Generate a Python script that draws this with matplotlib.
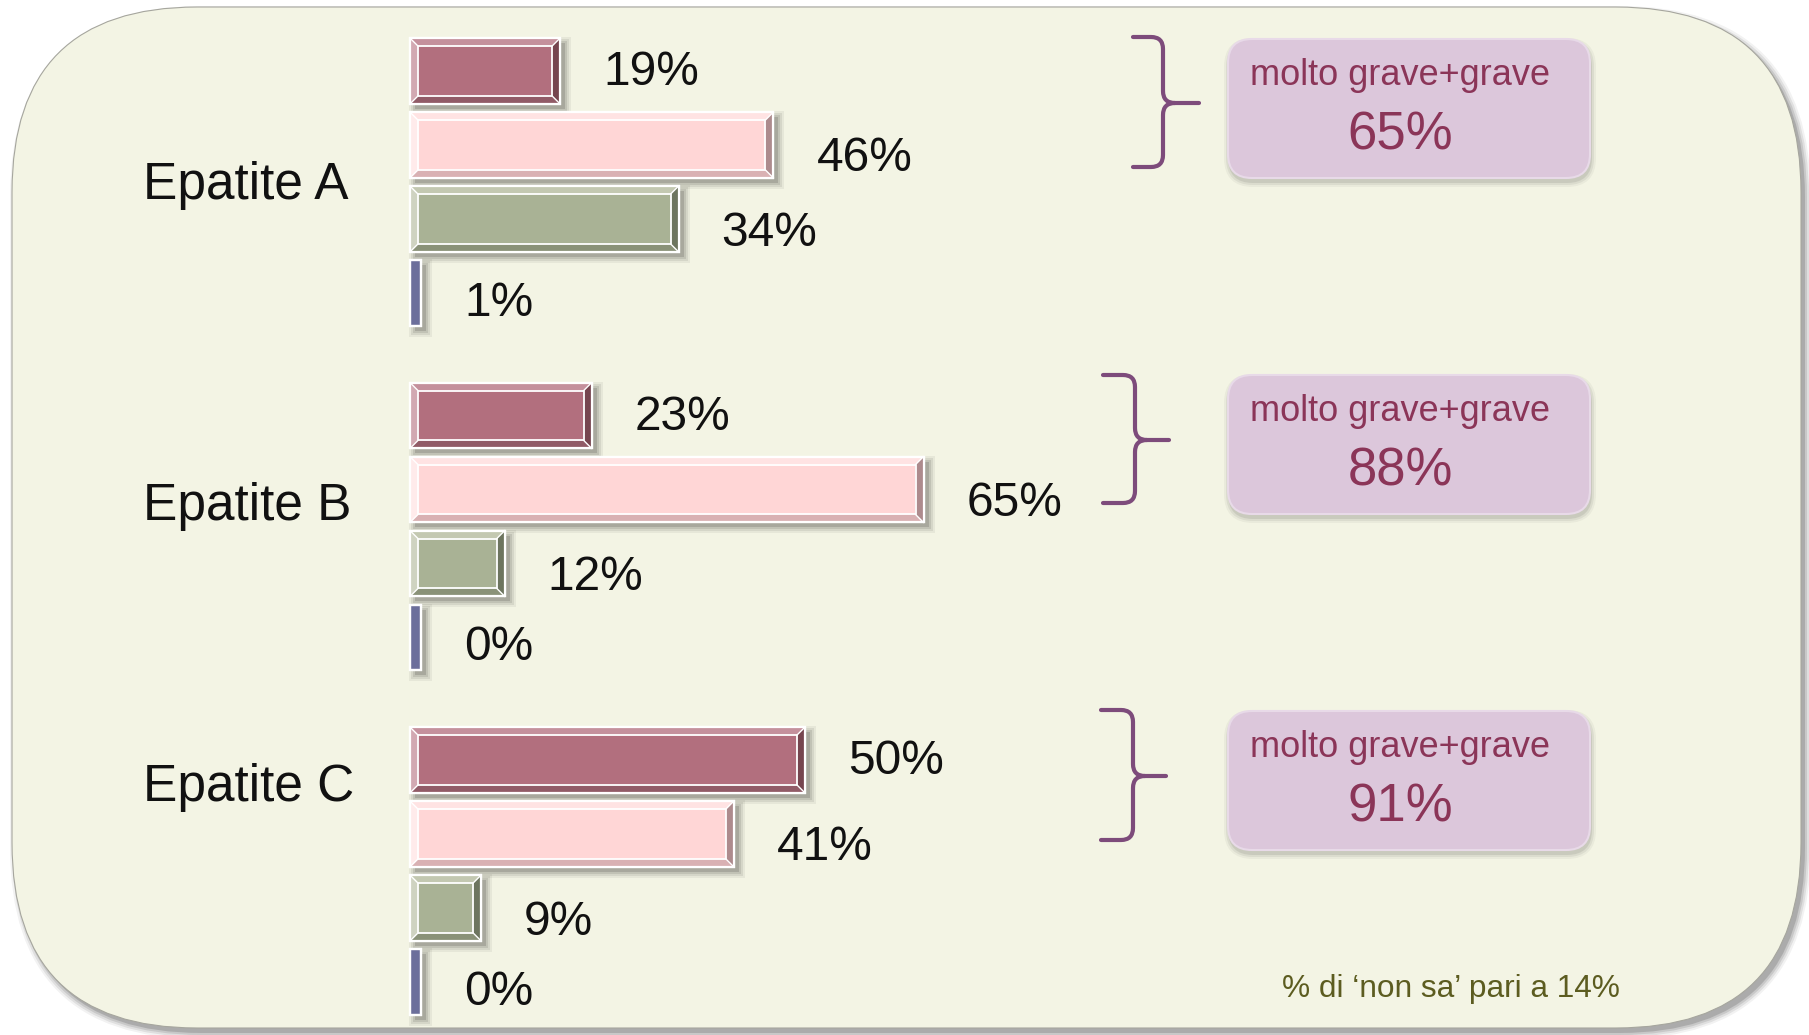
import numpy as np
import matplotlib
matplotlib.use("Agg")
import matplotlib.pyplot as plt
from matplotlib.patches import FancyBboxPatch, Polygon, Rectangle, PathPatch
from matplotlib.path import Path

plt.rcParams['font.family'] = ['Liberation Sans', 'DejaVu Sans']

# ---------------- data ----------------
diseases = ["Epatite A", "Epatite B", "Epatite C"]
molto_grave = [19, 23, 50]
grave = [46, 65, 41]
poco_grave = [34, 12, 9]
per_niente_grave = [1, 0, 0]
series = [molto_grave, grave, poco_grave, per_niente_grave]
summary_title = "molto grave+grave"
summary_totals = [65, 88, 91]
footnote = "% di \u2018non sa\u2019 pari a 14%"

# ---------------- style / layout ----------------
W, H = 1809, 1035
fill_colors = ["#B26F7E", "#FFD6D6", "#A9B295", "#6C6F9B"]
bevel_colors = [  # top, left, bottom, right
    ("#C4909C", "#D2A9B2", "#915B67", "#76454F"),
    ("#FFE3E3", "#FFEBEB", "#D9B1B3", "#AD8B8D"),
    ("#C3C8B1", "#CFD3C1", "#8A9278", "#6D755F"),
    ("#8C8FB3", "#9A9CBD", "#55587D", "#4A4C6E"),
]
PX_PER_PCT = 7.9
ZERO_X = 410
SLOT = 74.0
GROUP_GAP = 344.5
FIRST_Y = 71
BAR_H = 0.89
MIN_VIS = 1.4
BEVEL = 8
LABEL_DX = 43
LABEL_DY = [-2, 10, 11, 7]          # px, downward, per series
GROUP_LABEL_BASELINE = [199, 520, 801]
BRACES = [(1133, 1163, 1199, 37, 167, 103),
          (1103, 1135, 1169, 375, 503, 440),
          (1101, 1133, 1166, 710, 840, 776)]
BOX_X, BOX_W, BOX_H = 1228, 362, 139
BOX_TOP = [39, 375, 711]
TEXT_DARK = "#8B3558"
BRACE_COLOR = "#7D4B7B"

fig = plt.figure(figsize=(W / 100, H / 100), dpi=100, facecolor="white")

# background / decoration axes in pixel units
bg = fig.add_axes([0, 0, 1, 1])
bg.set_xlim(0, W)
bg.set_ylim(H, 0)
bg.axis("off")

# panel shadow + panel
for grow, a in [(6, 0.05), (4, 0.08), (2, 0.10), (0, 0.14)]:
    bg.add_patch(FancyBboxPatch((12 + 4 - grow, 7 + 5 - grow), 1789 + 2 * grow, 1021 + 2 * grow,
                                boxstyle="round,pad=0,rounding_size=%d" % (185 + grow),
                                fc="black", ec="none", alpha=a, zorder=0))
bg.add_patch(FancyBboxPatch((12, 7), 1789, 1021, boxstyle="round,pad=0,rounding_size=185",
                            fc="#F3F4E4", ec="#A6A69E", lw=0.8, zorder=1))

# group labels
for name, yb in zip(diseases, GROUP_LABEL_BASELINE):
    bg.text(143, yb, name, fontsize=37, ha="left", va="baseline", color="#111111", zorder=3)

# braces
def brace(xl, xv, xt, yt, yb, ym, r=12):
    verts = [(xl, yt), (xv - r, yt), (xv, yt), (xv, yt + r),
             (xv, ym - r), (xv, ym), (xv + r, ym), (xt, ym),
             (xv + r, ym), (xv, ym), (xv, ym + r),
             (xv, yb - r), (xv, yb), (xv - r, yb), (xl, yb)]
    codes = [Path.MOVETO, Path.LINETO, Path.CURVE3, Path.CURVE3,
             Path.LINETO, Path.CURVE3, Path.CURVE3, Path.LINETO,
             Path.MOVETO, Path.CURVE3, Path.CURVE3,
             Path.LINETO, Path.CURVE3, Path.CURVE3, Path.LINETO]
    bg.add_patch(PathPatch(Path(verts, codes), fc="none", ec=BRACE_COLOR, lw=3.0,
                           capstyle="round", joinstyle="round", zorder=3))

for b in BRACES:
    brace(*b)

# summary boxes
for top, tot in zip(BOX_TOP, summary_totals):
    for grow, a in [(5, 0.04), (3, 0.06), (1, 0.08)]:
        bg.add_patch(FancyBboxPatch((BOX_X - grow + 1, top + 4 - grow), BOX_W + 2 * grow, BOX_H + 2 * grow,
                                    boxstyle="round,pad=0,rounding_size=%d" % (24 + grow),
                                    fc="black", ec="none", alpha=a, zorder=2))
    bg.add_patch(FancyBboxPatch((BOX_X, top), BOX_W, BOX_H,
                                boxstyle="round,pad=0,rounding_size=24",
                                fc="#DCC7DB", ec="#E8DAE8", lw=1.5, zorder=3))
    cx = BOX_X + BOX_W / 2 - 9
    bg.text(cx, top + 46, summary_title, fontsize=26, ha="center", va="baseline",
            color=TEXT_DARK, zorder=4)
    bg.text(cx, top + 111, f"{tot}%", fontsize=38, ha="center", va="baseline",
            color=TEXT_DARK, zorder=4)

# footnote
bg.text(1282, 997, footnote, fontsize=22.8, ha="left", va="baseline", color="#5C5C20", zorder=3)

# ---------------- bars axes ----------------
ax = fig.add_axes([0, 0, 1, 1])
ax.patch.set_visible(False)
ax.set_xlim(-ZERO_X / PX_PER_PCT, (W - ZERO_X) / PX_PER_PCT)
ax.set_ylim((H - FIRST_Y) / SLOT, -FIRST_Y / SLOT)
ax.axis("off")

dx = 1.0 / PX_PER_PCT   # one pixel in x data units
dy = 1.0 / SLOT         # one pixel in y data units
group_pos = np.arange(len(diseases)) * GROUP_GAP / SLOT

for j, vals in enumerate(series):
    vals = np.asarray(vals, dtype=float)
    ypos = group_pos + j
    shown = np.maximum(vals, MIN_VIS)
    bars = ax.barh(ypos, shown, height=BAR_H, left=0, color=fill_colors[j],
                   edgecolor="white", linewidth=1.6, zorder=3)
    top_c, left_c, bot_c, right_c = bevel_colors[j]
    for p, v in zip(bars.patches, vals):
        x0, y0, w, h = p.get_x(), p.get_y(), p.get_width(), p.get_height()
        # soft drop shadow
        for grow, a in [(6, 0.05), (4, 0.07), (2, 0.09), (0, 0.13)]:
            ax.add_patch(Rectangle((x0 + (5 - grow) * dx, y0 + (5 - grow) * dy),
                                   w + 2 * grow * dx, h + 2 * grow * dy,
                                   fc="black", ec="none", alpha=a, zorder=1))
        # bevel
        if w / dx > 3 * BEVEL:
            bx, by = BEVEL * dx, BEVEL * dy
            x1, y1 = x0 + w, y0 + h
            faces = [
                ([(x0, y0), (x1, y0), (x1 - bx, y0 + by), (x0 + bx, y0 + by)], top_c),
                ([(x0, y0), (x0 + bx, y0 + by), (x0 + bx, y1 - by), (x0, y1)], left_c),
                ([(x0, y1), (x1, y1), (x1 - bx, y1 - by), (x0 + bx, y1 - by)], bot_c),
                ([(x1, y0), (x1 - bx, y0 + by), (x1 - bx, y1 - by), (x1, y1)], right_c),
            ]
            for verts, c in faces:
                ax.add_patch(Polygon(verts, closed=True, fc=c, ec="none", zorder=4))
            ax.add_patch(Rectangle((x0 + bx, y0 + by), w - 2 * bx, h - 2 * by,
                                   fc="none", ec="white", lw=1.3, zorder=5))
            for (xa, ya), (xb, yb2) in [((x0, y0), (x0 + bx, y0 + by)), ((x1, y0), (x1 - bx, y0 + by)),
                                         ((x0, y1), (x0 + bx, y1 - by)), ((x1, y1), (x1 - bx, y1 - by))]:
                ax.plot([xa, xb], [ya, yb2], color="white", lw=1.0, zorder=5)
        ax.add_patch(Rectangle((x0, y0), w, h, fc="none", ec="white", lw=1.6, zorder=6))
        # value label
        ax.annotate(f"{int(v)}%", xy=(x0 + w, y0 + h / 2),
                    xytext=(LABEL_DX, -(LABEL_DY[j] + 16)), textcoords="offset pixels",
                    ha="left", va="baseline", fontsize=34.5, color="#111111", zorder=7)

fig.savefig("out.png", dpi=100, facecolor="white")
